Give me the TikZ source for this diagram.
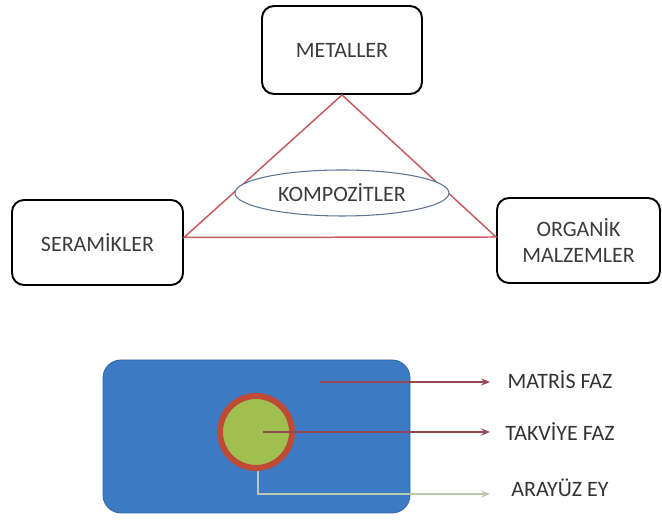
\documentclass[tikz,border=0pt]{standalone}
\usepackage{fontspec}
\setmainfont{Carlito}
\usetikzlibrary{shapes.geometric, arrows.meta, positioning}

\definecolor{edgered}{RGB}{196,92,96}
\definecolor{ellblue}{RGB}{90,115,150}
\definecolor{matblue}{RGB}{60,122,196}
\definecolor{ringred}{RGB}{190,75,55}
\definecolor{fibgreen}{RGB}{160,192,80}
\definecolor{lblgray}{RGB}{60,60,60}
\definecolor{arrred}{RGB}{150,72,82}
\definecolor{arrpale}{RGB}{185,200,175}

\begin{document}
\begin{tikzpicture}[
    class/.style={rectangle, rounded corners=0.24cm, draw=black, line width=1.1pt, fill=white, align=center, text=lblgray, font=\fontsize{12.5}{15}\selectfont},
    core/.style={ellipse, draw=ellblue, line width=0.6pt, fill=white, minimum width=4.28cm, minimum height=0.92cm, text=lblgray, font=\fontsize{12.5}{15}\selectfont},
    phase/.style={anchor=center, text=black!80, font=\fontsize{12.5}{15}\selectfont},
    link/.style={edgered, line width=0.85pt},
    flow/.style={-{Stealth[length=5pt, width=4pt]}, line width=0.8pt}
]
    \useasboundingbox (0,0) rectangle (13.24,10.4);

    % Triangle of material classes
    \node[class, minimum width=3.2cm, minimum height=1.76cm] (metal) at (6.84, 9.4) {METALLER};
    \node[class, minimum width=3.42cm, minimum height=1.7cm] (seram) at (1.95, 5.55) {SERAMİKLER};
    \node[class, minimum width=3.26cm, minimum height=1.7cm] (organik) at (11.57, 5.59) {ORGANİK\\MALZEMLER};
    \draw[link] (metal.south) -- ([yshift=1mm]seram.east) -- ([yshift=0.7mm]organik.west) -- cycle;
    \node[core] (kompozit) at (6.84, 6.54) {KOMPOZİTLER};

    % Composite cross section
    \node[rectangle, rounded corners=0.36cm, draw=matblue!85!black, line width=0.5pt, fill=matblue, minimum width=6.14cm, minimum height=3.06cm] (matris) at (5.13, 1.67) {};
    \node[circle, draw=ringred, line width=0.12cm, fill=fibgreen, minimum size=1.44cm, inner sep=0pt] (fiber) at (5.12, 1.76) {};

    % Labels
    \node[phase] (lblmatris) at (11.2, 2.8) {MATRİS FAZ};
    \node[phase] (lbltakviye) at (11.2, 1.76) {TAKVİYE FAZ};
    \node[phase] (lblara) at (11.2, 0.64) {ARAYÜZ EY};
    \coordinate (tip) at (9.8, 0);
    \coordinate (mstart) at (6.4, 2.76);
    \coordinate (tstart) at (5.26, 1.76);
    \coordinate (abend) at (5.16, 0.52);

    \draw[flow, arrred] (mstart) -- (mstart -| tip);
    \draw[flow, arrred] (tstart) -- (tstart -| tip);
    \draw[flow, arrpale] (fiber.south -| abend) -- (abend) -- (abend -| tip);

\end{tikzpicture}
\end{document}
